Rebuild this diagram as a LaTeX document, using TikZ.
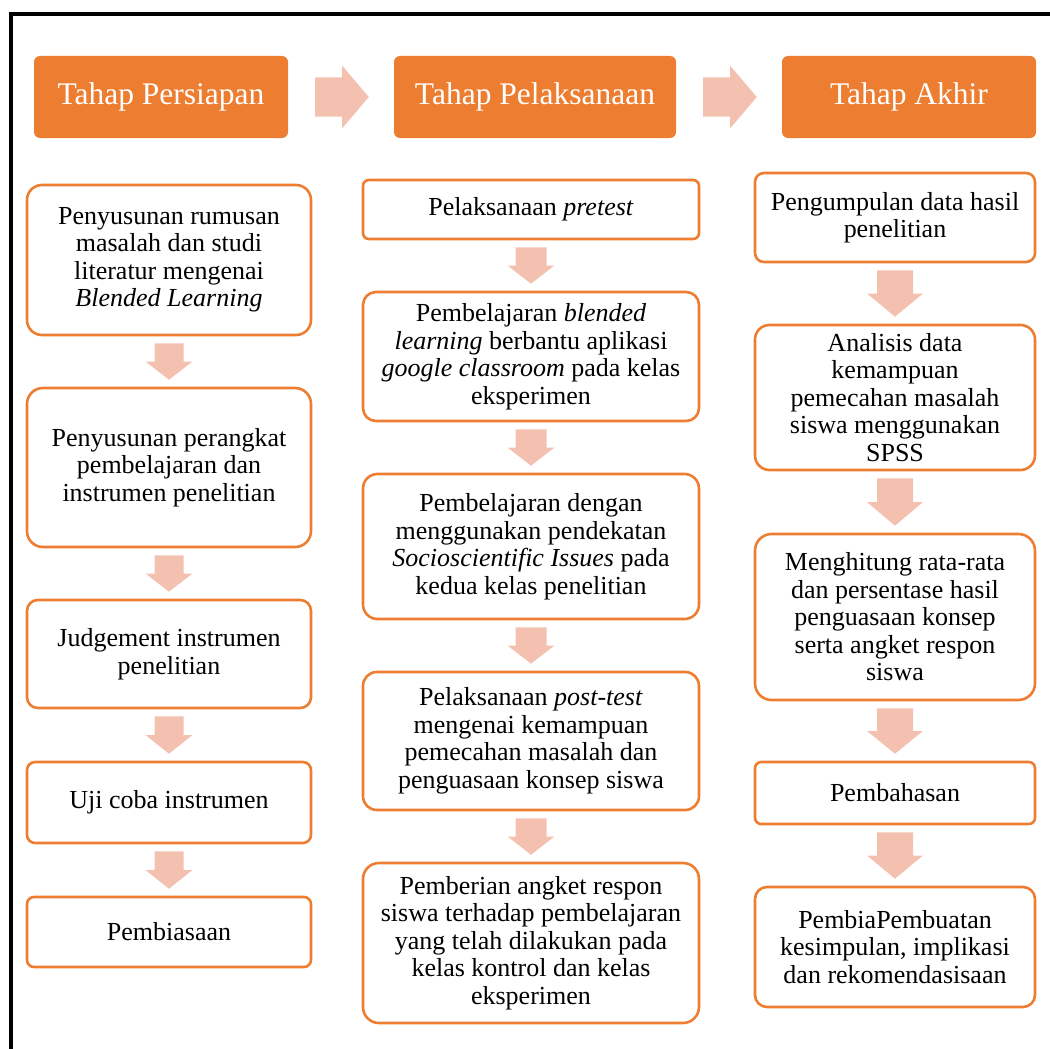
\documentclass[tikz,border=0pt]{standalone}
\usepackage{fontspec}
\setmainfont{Liberation Serif}
\usetikzlibrary{calc}
\definecolor{accentorange}{HTML}{ED7D31}
\definecolor{arrowpeach}{RGB}{244,193,176}

\tikzset{
  header/.style={fill=accentorange, text=white, rounded corners=6pt,
    minimum width=#1, minimum height=82, inner sep=0pt,
    font=\fontsize{31.5}{34}\selectfont},
  stepbox/.style 2 args={draw=accentorange, line width=2.6pt, fill=white,
    minimum width=#1, minimum height=#2, rounded corners={0.1*#2},
    inner sep=0pt, align=center, font=\fontsize{26}{27.5}\selectfont},
  blockarrow/.style={fill=arrowpeach}
}

% block arrow between two stacked boxes
\newcommand{\blockdown}[4]{%
  \fill[blockarrow] let \p1=(#1.south), \p2=(#2.north),
    \n1={\y1-7pt}, \n2={\y2+7pt}, \n3={0.5*\n1+0.5*\n2} in
    (\x1-#3,\n1) -- (\x1+#3,\n1) -- (\x1+#3,\n3) -- (\x1+#4,\n3)
    -- (\x1,\n2) -- (\x1-#4,\n3) -- (\x1-#3,\n3) -- cycle;}
% block arrow between two headers
\newcommand{\blockright}[2]{%
  \fill[blockarrow] let \p1=(#1.east), \p2=(#2.west),
    \n1={\x1+27pt}, \n2={\x2-25pt}, \n3={0.5*\n1+0.5*\n2} in
    (\n1,\y1+19.5pt) -- (\n3,\y1+19.5pt) -- (\n3,\y1+31.5pt) -- (\n2,\y1)
    -- (\n3,\y1-31.5pt) -- (\n3,\y1-19.5pt) -- (\n1,\y1-19.5pt) -- cycle;}

\begin{document}
\begin{tikzpicture}[x=1pt,y=-1pt]
\useasboundingbox (0,0) rectangle (1050,1049);

% frame
\draw[line width=4pt] (10.5,1049) -- (10.5,14.5) -- (1050,14.5);

% headers
\node[header=254] (hPersiapan) at (161,97) {Tahap Persiapan};
\node[header=282] (hPelaksanaan) at (535,97) {Tahap Pelaksanaan};
\node[header=254] (hAkhir) at (909,97) {Tahap Akhir};
\blockright{hPersiapan}{hPelaksanaan}
\blockright{hPelaksanaan}{hAkhir}

% Tahap Persiapan
\node[stepbox={284}{150}] (p1) at (169,260) {Penyusunan rumusan\\masalah dan studi\\literatur mengenai\\\textit{Blended Learning}};
\node[stepbox={284}{159}] (p2) at (169,467.5) {Penyusunan perangkat\\pembelajaran dan\\instrumen penelitian};
\node[stepbox={284}{108}] (p3) at (169,654) {Judgement instrumen\\penelitian};
\node[stepbox={284}{81}] (p4) at (169,802.5) {Uji coba instrumen};
\node[stepbox={284}{70}] (p5) at (169,932) {Pembiasaan};

% Tahap Pelaksanaan
\node[stepbox={336}{59}] (l1) at (531,209.5) {Pelaksanaan \textit{pretest}};
\node[stepbox={336}{129}] (l2) at (531,356.5) {Pembelajaran \textit{blended}\\\textit{learning} berbantu aplikasi\\\textit{google classroom} pada kelas\\eksperimen};
\node[stepbox={336}{145}] (l3) at (531,546.5) {Pembelajaran dengan\\menggunakan pendekatan\\\textit{Socioscientific Issues} pada\\kedua kelas penelitian};
\node[stepbox={336}{138}] (l4) at (531,741) {Pelaksanaan \textit{post-test}\\mengenai kemampuan\\pemecahan masalah dan\\penguasaan konsep siswa};
\node[stepbox={336}{160}] (l5) at (531,943) {Pemberian angket respon\\siswa terhadap pembelajaran\\yang telah dilakukan pada\\kelas kontrol dan kelas\\eksperimen};

% Tahap Akhir
\node[stepbox={280}{89}] (a1) at (895,217.5) {Pengumpulan data hasil\\penelitian};
\node[stepbox={280}{145}] (a2) at (895,397.5) {Analisis data\\kemampuan\\pemecahan masalah\\siswa menggunakan\\SPSS};
\node[stepbox={280}{166}] (a3) at (895,617) {Menghitung rata-rata\\dan persentase hasil\\penguasaan konsep\\serta angket respon\\siswa};
\node[stepbox={280}{62}] (a4) at (895,793) {Pembahasan};
\node[stepbox={280}{120}] (a5) at (895,947) {PembiaPembuatan\\kesimpulan, implikasi\\dan rekomendasisaan};

% arrows
\foreach \i/\j in {1/2,2/3,3/4,4/5}{
  \blockdown{p\i}{p\j}{14.5pt}{23.5pt}
  \blockdown{l\i}{l\j}{15.5pt}{23.5pt}
  \blockdown{a\i}{a\j}{18pt}{28pt}
}
\end{tikzpicture}
\end{document}
